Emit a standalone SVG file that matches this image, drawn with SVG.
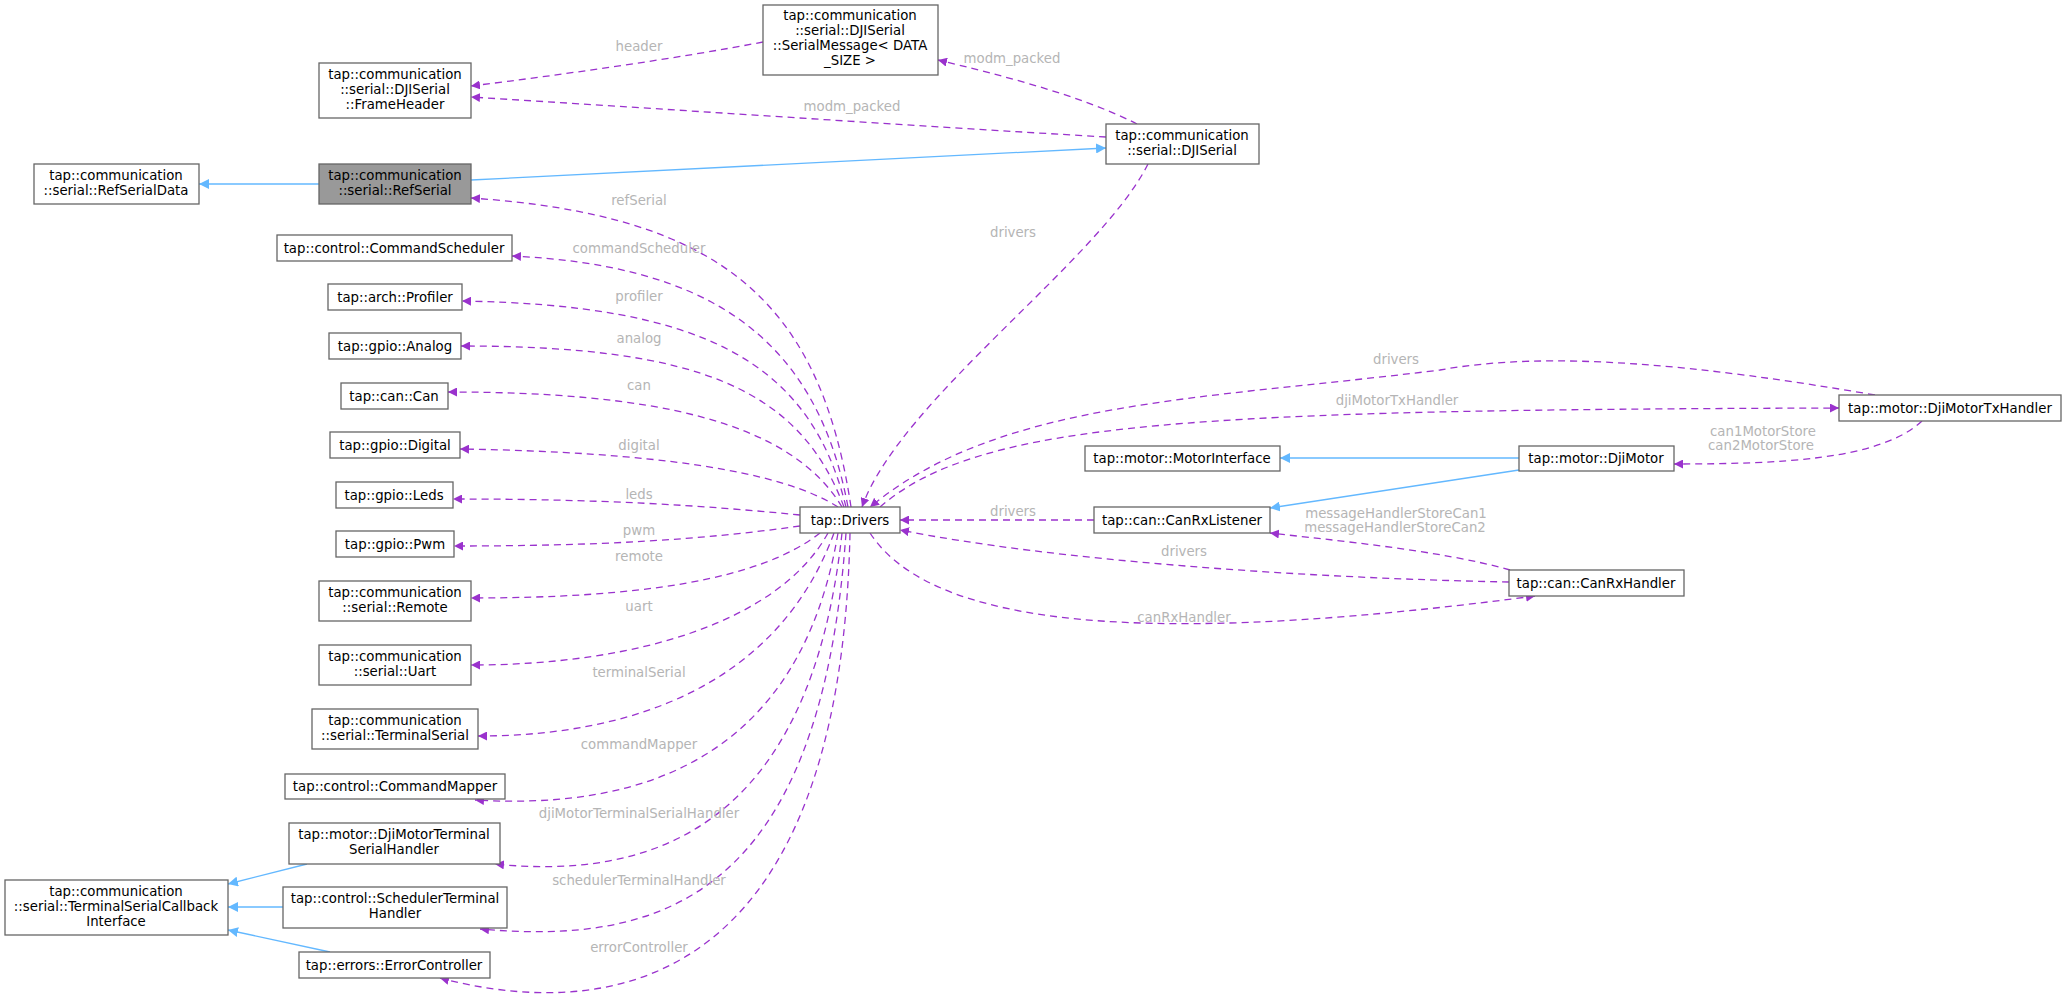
<svg xmlns="http://www.w3.org/2000/svg" width="2067" height="1006" viewBox="0 0 2067 1006">
<style>
.n rect{fill:#fff;stroke:#666;stroke-width:1.3}
.n text,.l{font-family:"DejaVu Sans",sans-serif;font-size:13.3px;text-anchor:middle}
.n text{fill:#000}
.l{fill:#b5b5b5}
.u{fill:none;stroke:#9a32cd;stroke-width:1.3;stroke-dasharray:7,5;marker-end:url(#pa)}
.i{fill:none;stroke:#63b8ff;stroke-width:1.3;marker-end:url(#ba)}
</style>
<defs>
<marker id="pa" viewBox="0 0 10 10" refX="10" refY="5" markerWidth="9" markerHeight="9" orient="auto" markerUnits="userSpaceOnUse"><path d="M0,0L10,5L0,10z" fill="#9a32cd"/></marker>
<marker id="ba" viewBox="0 0 10 10" refX="10" refY="5" markerWidth="10" markerHeight="10" orient="auto" markerUnits="userSpaceOnUse"><path d="M0,0L10,5L0,10z" fill="#63b8ff"/></marker>
</defs>
<rect width="2067" height="1006" fill="#fff"/>
<g id="edges">
<path class="u" d="M763,42 C680,58 560,75 471,86"/>
<path class="u" d="M1137,124 C1080,95 1000,75 938,60"/>
<path class="u" d="M1106,137 C900,125 650,108 471,97"/>
<path class="i" d="M471,180 L1106,148"/>
<path class="i" d="M319,184 L199,184"/>
<path class="u" d="M851,507 C820,300 720,215 471,198"/>
<path class="u" d="M1148,164 C1100,260 900,400 862,507"/>
<path class="u" d="M848,507 C815,330 700,265 512,256"/>
<path class="u" d="M846,507 C810,360 700,305 462,301"/>
<path class="u" d="M844,507 C800,390 700,346 461,346"/>
<path class="u" d="M842,507 C790,420 650,392 448,392"/>
<path class="u" d="M838,507 C780,470 650,452 460,449"/>
<path class="u" d="M800,515 C700,505 600,499 453,499"/>
<path class="u" d="M800,526 C700,540 600,546 454,546"/>
<path class="u" d="M820,533 C760,580 640,598 471,598"/>
<path class="u" d="M828,533 C780,620 640,665 471,665"/>
<path class="u" d="M834,533 C780,680 640,736 478,736"/>
<path class="u" d="M838,533 C800,760 640,810 475,800"/>
<path class="u" d="M842,533 C810,830 650,880 495,864"/>
<path class="u" d="M846,533 C820,900 660,945 480,929"/>
<path class="u" d="M850,533 C840,1000 600,1020 440,978"/>
<path class="i" d="M307,864 L228,884"/>
<path class="i" d="M283,907 L228,907"/>
<path class="i" d="M330,952 L228,930"/>
<path class="u" d="M1875,395 C1700,365 1550,350 1440,370 C1200,400 1000,400 870,507"/>
<path class="u" d="M880,507 C980,420 1200,410 1839,408"/>
<path class="u" d="M1922,421 C1880,460 1780,464 1674,464"/>
<path class="i" d="M1519,458 L1280,458"/>
<path class="i" d="M1519,470 L1270,508"/>
<path class="u" d="M1094,520 L900,520"/>
<path class="u" d="M1510,570 C1440,550 1330,540 1270,533"/>
<path class="u" d="M1509,582 C1300,578 1050,560 900,530"/>
<path class="u" d="M870,533 C940,640 1200,640 1535,596"/>
<text class="l" x="639" y="51">header</text>
<text class="l" x="1012" y="63">modm_packed</text>
<text class="l" x="852" y="111">modm_packed</text>
<text class="l" x="639" y="205">refSerial</text>
<text class="l" x="1013" y="237">drivers</text>
<text class="l" x="639" y="253">commandScheduler</text>
<text class="l" x="639" y="301">profiler</text>
<text class="l" x="639" y="343">analog</text>
<text class="l" x="639" y="390">can</text>
<text class="l" x="639" y="450">digital</text>
<text class="l" x="639" y="499">leds</text>
<text class="l" x="639" y="535">pwm</text>
<text class="l" x="639" y="561">remote</text>
<text class="l" x="639" y="611">uart</text>
<text class="l" x="639" y="677">terminalSerial</text>
<text class="l" x="639" y="749">commandMapper</text>
<text class="l" x="639" y="818">djiMotorTerminalSerialHandler</text>
<text class="l" x="639" y="885">schedulerTerminalHandler</text>
<text class="l" x="639" y="952">errorController</text>
<text class="l" x="1396" y="364">drivers</text>
<text class="l" x="1397" y="405">djiMotorTxHandler</text>
<text class="l" x="1763" y="436">can1MotorStore</text>
<text class="l" x="1761" y="450">can2MotorStore</text>
<text class="l" x="1013" y="516">drivers</text>
<text class="l" x="1396" y="518">messageHandlerStoreCan1</text>
<text class="l" x="1395" y="532">messageHandlerStoreCan2</text>
<text class="l" x="1184" y="556">drivers</text>
<text class="l" x="1184" y="622">canRxHandler</text>
</g>
<g id="SerialMessage" class="n"><rect x="763" y="5" width="175" height="70"/><text x="850" y="20">tap::communication</text><text x="850" y="35">::serial::DJISerial</text><text x="850" y="50">::SerialMessage&lt; DATA</text><text x="850" y="65">_SIZE &gt;</text></g>
<g id="FrameHeader" class="n"><rect x="319" y="63" width="152" height="55"/><text x="395" y="79">tap::communication</text><text x="395" y="94">::serial::DJISerial</text><text x="395" y="109">::FrameHeader</text></g>
<g id="DJISerial" class="n"><rect x="1106" y="124" width="153" height="40"/><text x="1182" y="140">tap::communication</text><text x="1182" y="155">::serial::DJISerial</text></g>
<g id="RefSerialData" class="n"><rect x="34" y="164" width="165" height="40"/><text x="116" y="180">tap::communication</text><text x="116" y="195">::serial::RefSerialData</text></g>
<g id="RefSerial" class="n"><rect x="319" y="164" width="152" height="40" style="fill:#999"/><text x="395" y="180">tap::communication</text><text x="395" y="195">::serial::RefSerial</text></g>
<g id="CommandScheduler" class="n"><rect x="277" y="235" width="235" height="26"/><text x="394" y="253">tap::control::CommandScheduler</text></g>
<g id="Profiler" class="n"><rect x="328" y="284" width="134" height="26"/><text x="395" y="302">tap::arch::Profiler</text></g>
<g id="Analog" class="n"><rect x="329" y="333" width="132" height="26"/><text x="395" y="351">tap::gpio::Analog</text></g>
<g id="Can" class="n"><rect x="341" y="383" width="107" height="26"/><text x="394" y="401">tap::can::Can</text></g>
<g id="Digital" class="n"><rect x="330" y="432" width="130" height="26"/><text x="395" y="450">tap::gpio::Digital</text></g>
<g id="Leds" class="n"><rect x="336" y="482" width="117" height="26"/><text x="394" y="500">tap::gpio::Leds</text></g>
<g id="Pwm" class="n"><rect x="336" y="531" width="118" height="26"/><text x="395" y="549">tap::gpio::Pwm</text></g>
<g id="Remote" class="n"><rect x="319" y="581" width="152" height="40"/><text x="395" y="597">tap::communication</text><text x="395" y="612">::serial::Remote</text></g>
<g id="Uart" class="n"><rect x="319" y="645" width="152" height="40"/><text x="395" y="661">tap::communication</text><text x="395" y="676">::serial::Uart</text></g>
<g id="TerminalSerial" class="n"><rect x="312" y="709" width="166" height="40"/><text x="395" y="725">tap::communication</text><text x="395" y="740">::serial::TerminalSerial</text></g>
<g id="CommandMapper" class="n"><rect x="285" y="774" width="220" height="25"/><text x="395" y="791">tap::control::CommandMapper</text></g>
<g id="DjiMotorTerminalSerialHandler" class="n"><rect x="289" y="823" width="211" height="41"/><text x="394" y="839">tap::motor::DjiMotorTerminal</text><text x="394" y="854">SerialHandler</text></g>
<g id="TerminalSerialCallbackInterface" class="n"><rect x="5" y="880" width="223" height="55"/><text x="116" y="896">tap::communication</text><text x="116" y="911">::serial::TerminalSerialCallback</text><text x="116" y="926">Interface</text></g>
<g id="SchedulerTerminalHandler" class="n"><rect x="283" y="887" width="224" height="41"/><text x="395" y="903">tap::control::SchedulerTerminal</text><text x="395" y="918">Handler</text></g>
<g id="ErrorController" class="n"><rect x="299" y="952" width="191" height="26"/><text x="394" y="970">tap::errors::ErrorController</text></g>
<g id="Drivers" class="n"><rect x="800" y="507" width="100" height="26"/><text x="850" y="525">tap::Drivers</text></g>
<g id="DjiMotorTxHandler" class="n"><rect x="1839" y="395" width="222" height="26"/><text x="1950" y="413">tap::motor::DjiMotorTxHandler</text></g>
<g id="MotorInterface" class="n"><rect x="1085" y="446" width="195" height="25"/><text x="1182" y="463">tap::motor::MotorInterface</text></g>
<g id="DjiMotor" class="n"><rect x="1519" y="446" width="155" height="25"/><text x="1596" y="463">tap::motor::DjiMotor</text></g>
<g id="CanRxListener" class="n"><rect x="1094" y="507" width="176" height="26"/><text x="1182" y="525">tap::can::CanRxListener</text></g>
<g id="CanRxHandler" class="n"><rect x="1509" y="570" width="175" height="26"/><text x="1596" y="588">tap::can::CanRxHandler</text></g>
</svg>
